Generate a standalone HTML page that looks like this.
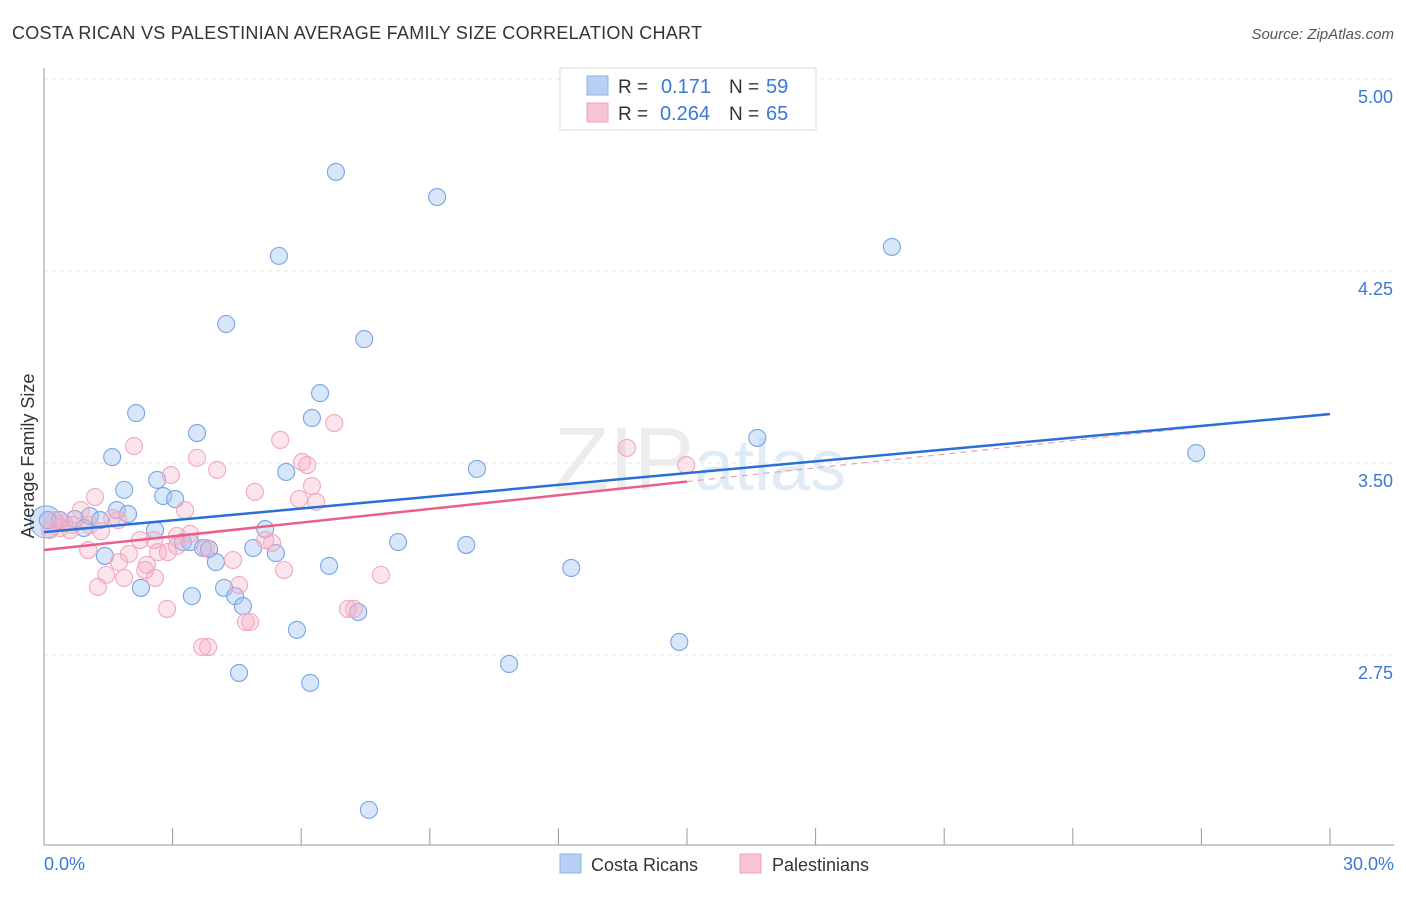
<!DOCTYPE html>
<html><head><meta charset="utf-8"><style>
body{margin:0;background:#fff;font-family:"Liberation Sans",sans-serif;}
svg text{font-family:"Liberation Sans",sans-serif;}
</style></head><body>
<svg id="chart" width="1406" height="892">
<text x="12" y="39" font-size="18" fill="#333" textLength="690">COSTA RICAN VS PALESTINIAN AVERAGE FAMILY SIZE CORRELATION CHART</text>
<text x="1394" y="39" font-size="15" fill="#555" font-style="italic" text-anchor="end">Source: ZipAtlas.com</text>
<g id="grid"></g>
<text x="700" y="490" font-size="90" fill="#ececf0" text-anchor="middle" font-family="Liberation Serif">ZIP<tspan fill="#e0ebf8" font-family="Liberation Sans" font-size="72">atlas</tspan></text>
<line x1="44" y1="68" x2="44" y2="845" stroke="#999"/>
<line x1="44" y1="845" x2="1394" y2="845" stroke="#999"/>
<g id="xticks"></g>
<g id="pts"></g>
<g id="lines"></g>
<text transform="translate(34,456) rotate(-90)" font-size="18" fill="#333" text-anchor="middle">Average Family Size</text>
<text x="44" y="870" font-size="18" fill="#3a78d8">0.0%</text>
<text x="1394" y="870" font-size="18" fill="#3a78d8" text-anchor="end">30.0%</text>
<g>
<rect x="560" y="68" width="256" height="62" fill="#fff" stroke="#ddd"/>
<rect x="587" y="76" width="21" height="19" fill="#b8d0f4" stroke="#8fb0e6"/>
<rect x="587" y="103" width="21" height="19" fill="#f8c4d4" stroke="#eea2ba"/>
<text x="618" y="93" font-size="19" fill="#333">R = </text><text x="711" y="93" font-size="20" fill="#3a78d8" text-anchor="end">0.171</text>
<text x="729" y="93" font-size="19" fill="#333">N = </text><text x="766" y="93" font-size="20" fill="#3a78d8">59</text>
<text x="618" y="120" font-size="19" fill="#333">R = </text><text x="710" y="120" font-size="20" fill="#3a78d8" text-anchor="end">0.264</text>
<text x="729" y="120" font-size="19" fill="#333">N = </text><text x="766" y="120" font-size="20" fill="#3a78d8">65</text>
</g>
<g>
<rect x="560" y="854" width="21" height="19" fill="#b8d0f4" stroke="#8fb0e6"/>
<text x="591" y="871" font-size="18" fill="#333">Costa Ricans</text>
<rect x="740" y="854" width="21" height="19" fill="#f8c4d4" stroke="#eea2ba"/>
<text x="772" y="871" font-size="18" fill="#333">Palestinians</text>
</g>
</svg>
<script>
const yTicks=[5.00,4.25,3.50,2.75];
const yTickLabels=["5.00","4.25","3.50","2.75"];
const xTicks=[0,3,6,9,12,15,18,21,24,27,30];
const blueX=[6.81,9.17,19.78,5.48,4.25,7.47,6.44,2.15,6.25,3.57,16.64,1.59,26.88,10.10,5.65,2.64,1.87,2.78,3.06,1.70,1.96,1.07,1.31,0.72,0.37,0.09,2.59,5.16,0.93,3.24,3.41,3.71,3.85,4.88,5.41,8.26,9.85,1.42,4.01,6.65,12.30,2.26,4.20,3.45,4.46,4.64,7.33,5.90,14.82,10.85,4.55,6.21,7.58];
const blueY=[4.637,4.539,4.344,4.309,4.043,3.984,3.773,3.695,3.676,3.617,3.598,3.523,3.539,3.477,3.465,3.434,3.395,3.371,3.359,3.316,3.301,3.293,3.277,3.281,3.277,3.277,3.238,3.242,3.246,3.191,3.191,3.168,3.164,3.168,3.148,3.191,3.180,3.137,3.113,3.098,3.090,3.012,3.012,2.980,2.980,2.941,2.918,2.848,2.801,2.715,2.680,2.641,2.145];
const pinkX=[2.10,3.57,5.51,6.77,6.02,6.14,4.04,13.60,14.98,2.96,1.19,4.92,6.25,5.95,6.35,3.29,0.86,1.59,1.73,1.33,0.37,0.61,0.14,2.24,2.57,3.10,3.41,3.10,1.03,1.98,2.66,2.89,3.78,5.16,5.32,4.41,1.75,2.40,2.36,1.45,1.87,2.59,5.60,7.86,1.26,4.55,2.87,7.09,7.23,4.71,4.81,3.69,3.83,0.47,0.26,0.65,1.07];
const pinkY=[3.566,3.520,3.590,3.656,3.504,3.492,3.473,3.559,3.492,3.453,3.367,3.387,3.410,3.359,3.348,3.316,3.316,3.285,3.277,3.234,3.246,3.238,3.238,3.199,3.199,3.215,3.223,3.176,3.160,3.145,3.152,3.152,3.168,3.199,3.188,3.121,3.113,3.102,3.082,3.063,3.051,3.051,3.082,3.063,3.016,3.023,2.930,2.930,2.930,2.879,2.879,2.781,2.781,3.266,3.277,3.258,3.258];
const blueTrend=[3.230,3.691];
const pinkTrend=[3.160,3.695];
const pinkSolidEnd=15;
const NS="http://www.w3.org/2000/svg";
function sx(v){return 44+v/30*1286;}
function sy(v){return 79+(5-v)*256;}
function mk(tag,attrs,parent){const e=document.createElementNS(NS,tag);for(const k in attrs)e.setAttribute(k,attrs[k]);parent.appendChild(e);return e;}
const grid=document.getElementById('grid');
yTicks.forEach((t,i)=>{
 const l=mk('line',{x1:44,x2:1394,y1:sy(t),y2:sy(t),stroke:'#e2e2e2','stroke-dasharray':'4,4'},grid);
 
 
 const tx=mk('text',{x:1393,y:sy(t)+24,'font-size':18,fill:'#3a78d8','text-anchor':'end'},grid);
 tx.textContent=yTickLabels[i];
 
 
});
const xt=document.getElementById('xticks');
xTicks.forEach(t=>{
 const l=mk('line',{x1:sx(t),x2:sx(t),y1:828,y2:845,stroke:'#999'},xt);
 
 
});
const pts=document.getElementById('pts');
const big=mk('circle',{cx:sx(0.05),cy:sy(3.27),r:16,fill:'rgba(160,196,240,0.45)',stroke:'#7aa6e4','stroke-width':1},pts);


blueX.forEach((x,i)=>{
 const c=mk('circle',{cx:sx(x),cy:sy(blueY[i]),r:8.5,fill:'rgba(160,196,240,0.42)',stroke:'#78a4e4','stroke-width':1.1},pts);
 
 
});
pinkX.forEach((x,i)=>{
 const c=mk('circle',{cx:sx(x),cy:sy(pinkY[i]),r:8.5,fill:'rgba(246,172,196,0.32)',stroke:'#f2a8be','stroke-width':1.1},pts);
 
 
});
const ln=document.getElementById('lines');
const pe=pinkTrend[0]+(pinkTrend[1]-pinkTrend[0])*pinkSolidEnd/30;
const pd=mk('line',{x1:sx(pinkSolidEnd),y1:sy(pe),x2:sx(30),y2:sy(pinkTrend[1]),stroke:'#e8a0b8','stroke-width':1.2,'stroke-dasharray':'6,5'},ln);


const pl=mk('line',{x1:sx(0),y1:sy(pinkTrend[0]),x2:sx(pinkSolidEnd),y2:sy(pe),stroke:'#e8608a','stroke-width':2.5},ln);


const bl=mk('line',{x1:sx(0),y1:sy(blueTrend[0]),x2:sx(30),y2:sy(blueTrend[1]),stroke:'#2a6fd6','stroke-width':2.5},ln);


</script>
</body></html>
